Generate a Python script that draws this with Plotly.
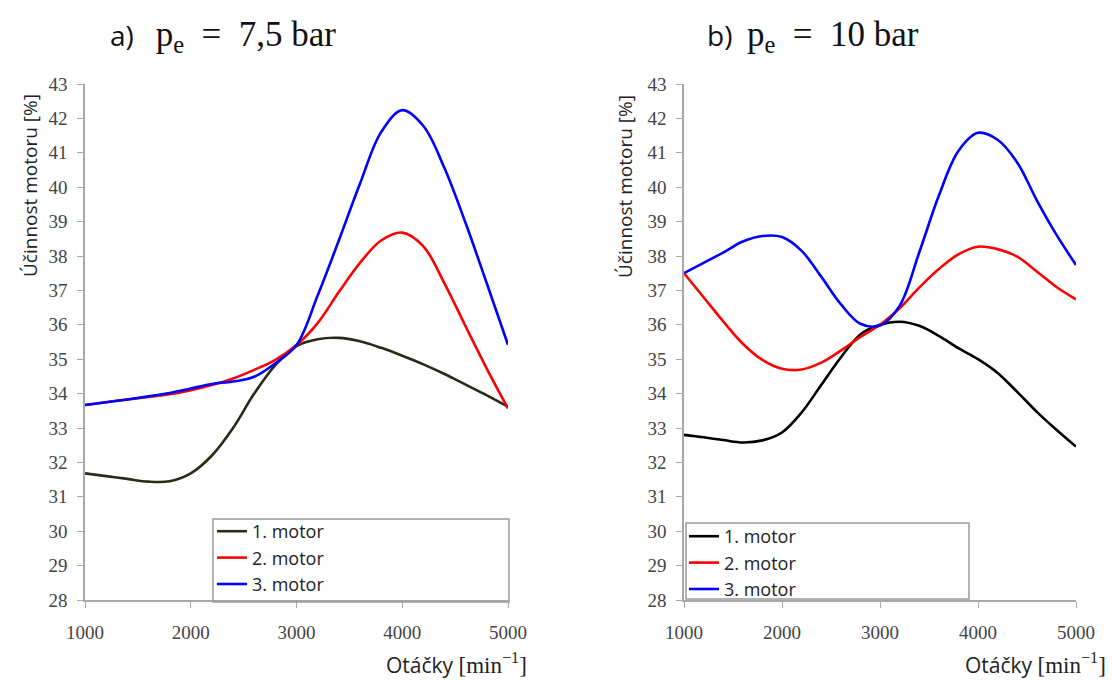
import plotly.graph_objects as go

# ---- data ----
rpm = [1000, 1200, 1400, 1600, 1800, 2000, 2200, 2400, 2600, 2800, 3000,
       3200, 3400, 3600, 3800, 4000, 4200, 4400, 4600, 4800, 5000]

# a) p_e = 7.5 bar
a_motor1 = [31.68, 31.6, 31.52, 31.44, 31.45, 31.68, 32.2, 33.0, 34.0, 34.83, 35.38,
            35.58, 35.62, 35.52, 35.33, 35.1, 34.85, 34.57, 34.26, 33.95, 33.62]
a_motor2 = [33.67, 33.75, 33.83, 33.9, 33.98, 34.1, 34.25, 34.44, 34.69, 34.98, 35.41,
            36.05, 36.95, 37.8, 38.45, 38.68, 38.28, 37.2, 35.95, 34.72, 33.57]
a_motor3 = [33.67, 33.75, 33.83, 33.92, 34.02, 34.15, 34.28, 34.35, 34.49, 34.88, 35.41,
            36.85, 38.45, 40.1, 41.6, 42.24, 41.78, 40.55, 38.95, 37.2, 35.42]

# b) p_e = 10 bar
b_motor1 = [32.8, 32.73, 32.65, 32.58, 32.64, 32.87, 33.45, 34.25, 35.05, 35.72, 36.0,
            36.09, 35.97, 35.68, 35.32, 35.0, 34.6, 34.05, 33.47, 32.95, 32.46]
b_motor2 = [37.5, 36.8, 36.1, 35.45, 34.98, 34.72, 34.7, 34.9, 35.25, 35.65, 36.0,
            36.48, 37.08, 37.62, 38.05, 38.27, 38.2, 37.98, 37.55, 37.1, 36.74]
b_motor3 = [37.5, 37.8, 38.1, 38.42, 38.58, 38.55, 38.15, 37.4, 36.6, 36.03, 35.98,
            36.55, 38.1, 39.75, 41.05, 41.58, 41.38, 40.72, 39.62, 38.62, 37.74]

series_names = ["1. motor", "2. motor", "3. motor"]
x_ticks = [1000, 2000, 3000, 4000, 5000]
y_ticks = list(range(28, 44))
title_a = "a)"
title_a_math = "p<sub>e</sub>&nbsp;&nbsp;=&nbsp;&nbsp;7,5 bar"
title_b = "b)"
title_b_math = "p<sub>e</sub>&nbsp;&nbsp;=&nbsp;&nbsp;10 bar"
y_title = "Účinnost motoru [%]"
x_title_word = "Otáčky"
x_title_unit = "[min<sup>−1</sup>]"

W, H = 1112, 680
SERIF = "Liberation Serif, Times New Roman, serif"
SANS = "Open Sans, Liberation Sans, sans-serif"

colors_a = ["#2a2a16", "#ff0000", "#0000ff"]
colors_b = ["#000000", "#ff0000", "#0000ff"]

fig = go.Figure()
for name, ys, c in zip(series_names, [a_motor1, a_motor2, a_motor3], colors_a):
    fig.add_trace(go.Scatter(x=rpm, y=ys, name=name, mode="lines",
                             line=dict(color=c, width=2.6, shape="spline", smoothing=1.0),
                             xaxis="x", yaxis="y", legend="legend"))
for name, ys, c in zip(series_names, [b_motor1, b_motor2, b_motor3], colors_b):
    fig.add_trace(go.Scatter(x=rpm, y=ys, name=name, mode="lines",
                             line=dict(color=c, width=2.6, shape="spline", smoothing=1.0),
                             xaxis="x2", yaxis="y2", legend="legend2"))

def px(x):
    return x / W

def py(y):
    return 1 - y / H

ydom = [py(600), py(84)]
axis_common = dict(showline=True, linecolor="#a8a8a8", linewidth=1.5,
                   ticks="outside", ticklen=6, tickcolor="#a8a8a8", tickwidth=1,
                   showgrid=False, zeroline=False, automargin=False,
                   tickfont=dict(family=SERIF, size=19, color="#444444"))

legend_common = dict(xanchor="left", yanchor="top",
                     bgcolor="rgba(0,0,0,0)", borderwidth=0,
                     font=dict(family=SANS, size=18, color="#222222"),
                     itemwidth=30, tracegroupgap=0)

fig.update_layout(
    width=W, height=H, margin=dict(l=0, r=0, t=0, b=0, autoexpand=False),
    paper_bgcolor="white", plot_bgcolor="white",
    xaxis=dict(domain=[px(85), px(508)], range=[1000, 5000], tickvals=x_ticks,
               anchor="y", ticklabelstandoff=8, **axis_common),
    yaxis=dict(domain=ydom, range=[28, 43], tickvals=y_ticks, anchor="x",
               ticklabelstandoff=6, **axis_common),
    xaxis2=dict(domain=[px(684), px(1076)], range=[1000, 5000], tickvals=x_ticks,
                anchor="y2", ticklabelstandoff=8, **axis_common),
    yaxis2=dict(domain=ydom, range=[28, 43], tickvals=y_ticks, anchor="x2",
                ticklabelstandoff=6, **axis_common),
    legend=dict(x=px(212), y=py(513), **legend_common),
    legend2=dict(x=px(684), y=py(518), **legend_common),
    showlegend=True,
)

# legend frames
for (x0, y0, x1, y1) in [(213, 519, 509, 602), (686, 523, 969, 599)]:
    fig.add_shape(type="rect", xref="paper", yref="paper",
                  x0=px(x0), x1=px(x1), y0=py(y1), y1=py(y0),
                  line=dict(color="#9a9a9a", width=1.5), fillcolor="rgba(0,0,0,0)")

ann = []
# panel titles
for xl, t1, gap, t2 in [(108, title_a, "&nbsp;&nbsp;&nbsp;", title_a_math),
                        (705, title_b, "&nbsp;&nbsp;", title_b_math)]:
    ann.append(dict(x=px(xl), y=py(36), xref="paper", yref="paper", xanchor="left", yanchor="middle",
                    showarrow=False,
                    text=f"<span style='font-family:Open Sans;font-size:28px'>{t1}{gap}</span>"
                         f"<span style='font-family:Liberation Serif'>{t2}</span>",
                    font=dict(family=SERIF, size=35, color="#111111")))
# y titles
for xc in [30, 625]:
    ann.append(dict(x=px(xc), y=py(186), xref="paper", yref="paper", xanchor="center", yanchor="middle",
                    showarrow=False, textangle=-90, text=y_title,
                    font=dict(family=SANS, size=19, color="#222222")))
# x titles
for xc in [456, 1035]:
    ann.append(dict(x=px(xc), y=py(664), xref="paper", yref="paper", xanchor="center", yanchor="middle",
                    showarrow=False,
                    text=f"{x_title_word} <span style='font-family:Liberation Serif;font-size:23px'>{x_title_unit}</span>",
                    font=dict(family=SANS, size=21, color="#222222")))
fig.update_layout(annotations=ann)

fig.write_html("out.html")
